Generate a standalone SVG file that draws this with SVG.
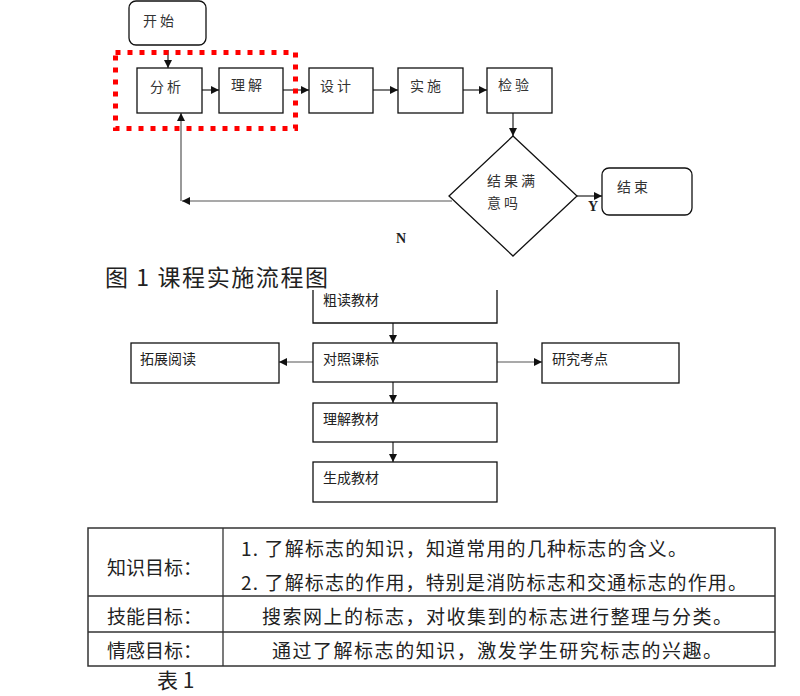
<svg xmlns="http://www.w3.org/2000/svg" width="800" height="696" viewBox="0 0 800 696">
<style>
.box{fill:#fff;stroke:#111;stroke-width:1.3}
.ln{fill:none;stroke:#222;stroke-width:1.2}
.gl{fill:none;stroke:#555;stroke-width:1.2}
.t{font-family:"Noto Sans CJK SC","Noto Sans",sans-serif;font-size:14px;fill:#333;letter-spacing:3px}
.t2{font-family:"Noto Sans CJK SC","Noto Sans",sans-serif;font-size:14px;fill:#222}
.tb{font-family:"Noto Sans CJK SC","Liberation Serif",serif;font-size:19px;fill:#222}
.lat{font-family:"Liberation Serif",serif;font-size:14px;fill:#222}
</style>
<defs>
<marker id="ah" viewBox="0 0 10 10" refX="10" refY="5" markerWidth="8" markerHeight="8" markerUnits="userSpaceOnUse" orient="auto">
<path d="M0,0 L10,5 L0,10 z" fill="#111"/>
</marker>
</defs>
<rect width="800" height="696" fill="#fff"/>

<g id="connectors">
<line class="ln" x1="168" y1="50" x2="168" y2="68" marker-end="url(#ah)"/>
<line class="ln" x1="202" y1="90" x2="219" y2="90" marker-end="url(#ah)"/>
<line class="ln" x1="283" y1="90" x2="309" y2="90" marker-end="url(#ah)"/>
<line class="ln" x1="373" y1="90" x2="398" y2="90" marker-end="url(#ah)"/>
<line class="ln" x1="463" y1="90" x2="487" y2="90" marker-end="url(#ah)"/>
<line class="ln" x1="513" y1="113" x2="513" y2="136" marker-end="url(#ah)"/>
<line class="ln" x1="577" y1="196" x2="602" y2="196" marker-end="url(#ah)"/>
<line class="gl" x1="452" y1="201" x2="182" y2="201" marker-end="url(#ah)"/>
<line class="gl" x1="181" y1="201" x2="181" y2="113" marker-end="url(#ah)"/>
<line class="ln" x1="393" y1="323" x2="393" y2="343" marker-end="url(#ah)"/>
<line class="gl" x1="313" y1="362" x2="279" y2="362" marker-end="url(#ah)"/>
<line class="gl" x1="497" y1="362" x2="542" y2="362" marker-end="url(#ah)"/>
<line class="ln" x1="393" y1="382" x2="393" y2="403" marker-end="url(#ah)"/>
<line class="ln" x1="393" y1="442" x2="393" y2="462" marker-end="url(#ah)"/>
<text class="lat" x="588" y="211" font-weight="bold">Y</text>
<text class="lat" x="396" y="243" font-weight="bold">N</text>
</g>

<g id="start"><rect class="box" x="129" y="1" width="77" height="44" rx="7"/><text class="t" x="143" y="26">开始</text></g>
<g id="analyze"><rect class="box" x="137" y="68" width="65" height="45"/><text class="t" x="150" y="92">分析</text></g>
<g id="understand"><rect class="box" x="219" y="68" width="64" height="45"/><text class="t" x="231" y="90">理解</text></g>
<g id="design"><rect class="box" x="309" y="68" width="64" height="45"/><text class="t" x="320" y="91">设计</text></g>
<g id="implement"><rect class="box" x="398" y="68" width="65" height="45"/><text class="t" x="410" y="91">实施</text></g>
<g id="check"><rect class="box" x="487" y="68" width="65" height="45"/><text class="t" x="498" y="90">检验</text></g>
<g id="decision"><polygon class="box" points="513,136 577,196 513,256 449,196"/><text class="t" x="487" y="186">结果满</text><text class="t" x="487" y="208">意吗</text></g>
<g id="end"><rect class="box" x="602" y="168" width="90" height="47" rx="7"/><text class="t" x="617" y="192">结束</text></g>
<g id="highlight"><rect x="115.5" y="52.5" width="180" height="76" fill="none" stroke="#f00" stroke-width="5" stroke-dasharray="5 7"/></g>

<g id="caption1"><text x="105" y="286" font-family="Noto Sans CJK SC,Liberation Serif,serif" font-size="23" fill="#222" textLength="223" lengthAdjust="spacing">图 1 课程实施流程图</text></g>

<g id="rough"><path class="box" d="M313,290 V323 H497 V290" fill="none"/><text class="t2" x="323" y="305">粗读教材</text></g>
<g id="compare"><rect class="box" x="313" y="343" width="184" height="39"/><text class="t2" x="323" y="364">对照课标</text></g>
<g id="extend"><rect class="box" x="131" y="343" width="148" height="40"/><text class="t2" x="140" y="364">拓展阅读</text></g>
<g id="research"><rect class="box" x="542" y="343" width="137" height="40"/><text class="t2" x="552" y="364">研究考点</text></g>
<g id="understand2"><rect class="box" x="313" y="403" width="184" height="39"/><text class="t2" x="323" y="424">理解教材</text></g>
<g id="generate"><rect class="box" x="313" y="462" width="184" height="40"/><text class="t2" x="323" y="483">生成教材</text></g>

<g id="table">
<rect x="88" y="528" width="687" height="138" fill="none" stroke="#333" stroke-width="1.5"/>
<line x1="223" y1="528" x2="223" y2="666" stroke="#333" stroke-width="1.3"/>
<line x1="88" y1="596" x2="775" y2="596" stroke="#333" stroke-width="1.3"/>
<line x1="88" y1="632" x2="775" y2="632" stroke="#333" stroke-width="1.3"/>
<text class="tb" x="107" y="575">知识目标：</text>
<text class="tb" x="107" y="624">技能目标：</text>
<text class="tb" x="107" y="658">情感目标：</text>
<text class="tb" x="241" y="556" textLength="446" lengthAdjust="spacing">1. 了解标志的知识，知道常用的几种标志的含义。</text>
<text class="tb" x="241" y="590" textLength="506" lengthAdjust="spacing">2. 了解标志的作用，特别是消防标志和交通标志的作用。</text>
<text class="tb" x="262" y="624" textLength="470" lengthAdjust="spacing">搜索网上的标志，对收集到的标志进行整理与分类。</text>
<text class="tb" x="272" y="658" textLength="450" lengthAdjust="spacing">通过了解标志的知识，激发学生研究标志的兴趣。</text>
</g>
<g id="caption2"><text x="157" y="688" font-family="Noto Sans CJK SC,Liberation Serif,serif" font-size="21" fill="#222">表 1</text></g>
</svg>
